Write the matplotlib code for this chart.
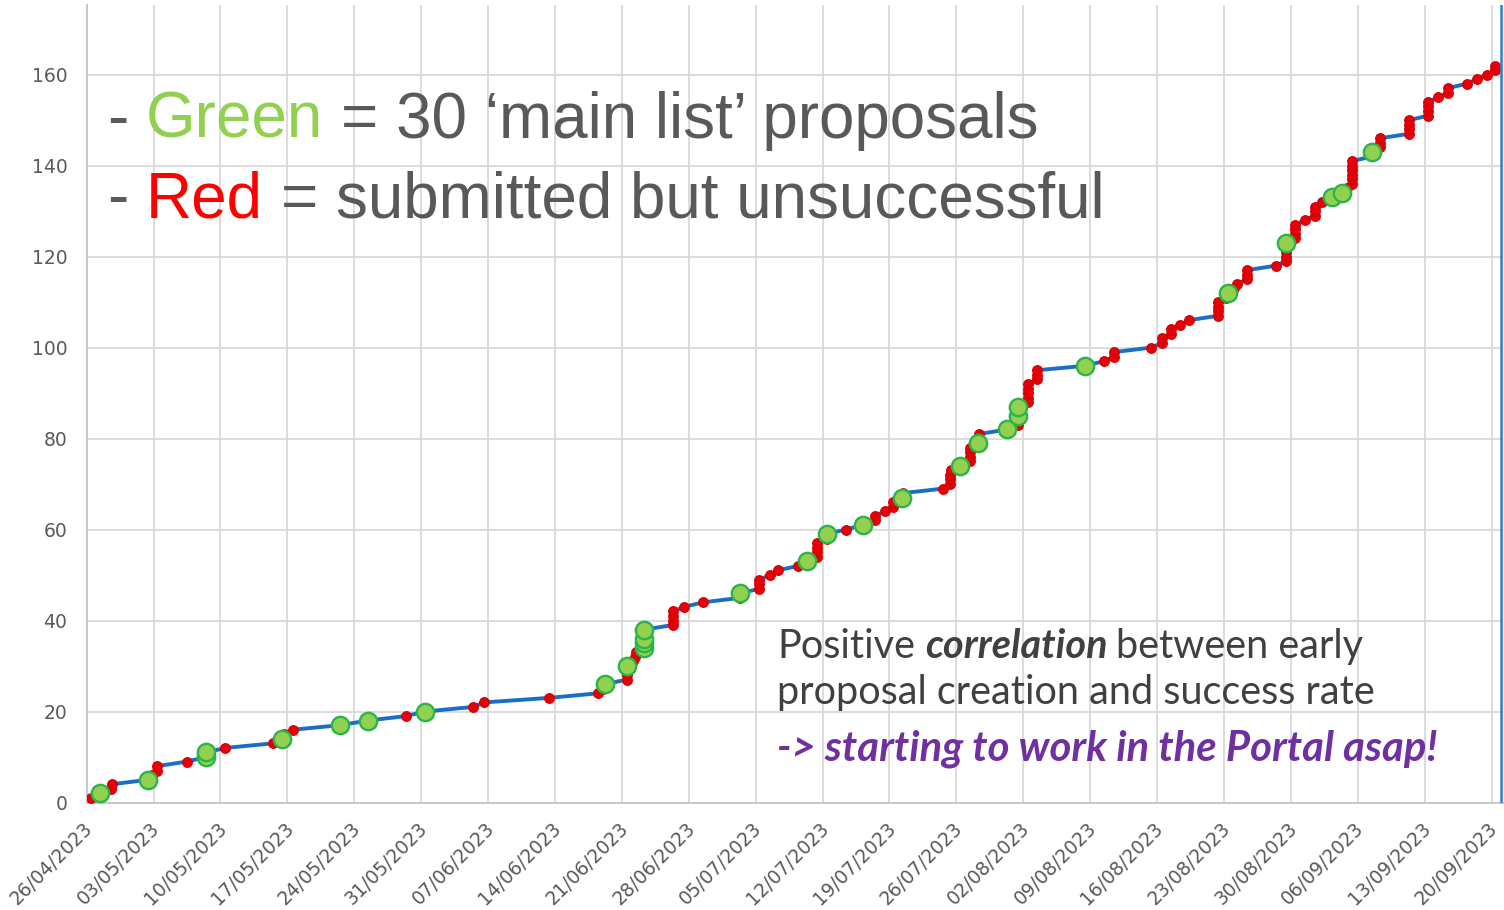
import numpy as np
import matplotlib
matplotlib.use("Agg")
import matplotlib.pyplot as plt
import matplotlib.dates as mdates
from matplotlib.transforms import ScaledTranslation
import datetime as dt

W, H = 1504, 910

# day offset (from 26/04/2023) of each proposal, in creation order
days = [
    0.5, 1.4, 2.5, 2.6, 6.4, 6.8, 7.4, 7.4, 10.5, 12.5,
    12.5, 14.5, 19.5, 20.4, 20.6, 21.6, 26.5, 29.4, 33.4, 35.4,
    40.4, 41.6, 48.4, 53.5, 54.0, 54.2, 56.5, 56.5, 56.5, 56.5,
    57.2, 57.4, 57.5, 58.3, 58.3, 58.3, 58.3, 58.3, 61.3, 61.3,
    61.3, 61.4, 62.5, 64.5, 68.4, 68.4, 70.4, 70.4, 70.4, 71.5,
    72.3, 74.4, 75.4, 76.4, 76.4, 76.4, 76.4, 77.5, 77.5, 79.4,
    81.2, 82.5, 82.5, 83.5, 84.4, 84.4, 85.3, 85.4, 89.6, 90.3,
    90.3, 90.3, 90.4, 91.4, 92.4, 92.4, 92.4, 92.4, 93.3, 93.4,
    93.4, 96.3, 97.4, 97.4, 97.4, 97.4, 97.4, 98.5, 98.5, 98.5,
    98.5, 98.5, 99.4, 99.4, 99.4, 104.5, 106.4, 107.5, 107.5, 111.4,
    112.5, 112.5, 113.5, 113.5, 114.4, 115.3, 118.4, 118.4, 118.4, 118.4,
    119.2, 119.4, 120.0, 120.4, 121.4, 121.4, 121.4, 124.4, 125.5, 125.5,
    125.5, 125.5, 125.5, 126.4, 126.4, 126.4, 126.4, 127.5, 128.5, 128.5,
    128.5, 129.3, 130.3, 131.4, 131.9, 132.4, 132.4, 132.4, 132.4, 132.4,
    132.4, 134.5, 134.5, 135.3, 135.3, 135.3, 138.4, 138.4, 138.4, 138.4,
    140.4, 140.4, 140.4, 140.4, 141.4, 142.4, 142.4, 144.4, 145.5, 146.5,
    147.4, 147.4,
]

# proposal numbers that made the 'main list'
green_ids = [2, 5, 10, 11, 14, 17, 18, 20, 26, 30, 34, 35, 36, 38, 46, 53, 59,
             61, 67, 74, 79, 82, 85, 87, 96, 112, 123, 133, 134, 143]

start = dt.date(2023, 4, 26)
n_weeks = 21
y_ticks = [0, 20, 40, 60, 80, 100, 120, 140, 160]

x0 = mdates.date2num(start)
x = x0 + np.array(days)
counts = np.arange(1, len(days) + 1)
is_green = np.isin(counts, green_ids)

fig = plt.figure(figsize=(W / 100, H / 100), dpi=100)
ax = fig.add_axes([86.7 / W, 107.5 / H, (1503 - 86.7) / W, 797.5 / H])

ax.plot(x, counts, color='#1A6FC4', lw=2.8, zorder=3)
ax.plot(x[~is_green], counts[~is_green], 'o', ms=7, mfc='#E5000A',
        mec='#D40000', mew=0.8, zorder=4)
ax.plot(x[is_green], counts[is_green], 'o', ms=12.5, mfc='#92D050',
        mec='#2CB34A', mew=1.7, zorder=5)
ax.axvline(x0 + 148.0, color='#2E7CD0', lw=1.8, zorder=6)

ax.set_xlim(x0, x0 + 148.2)
ax.set_ylim(0, 175.3)
ax.set_yticks(y_ticks)
ax.set_xticks(x0 + 7 * np.arange(n_weeks + 1))
ax.xaxis.set_major_formatter(mdates.DateFormatter('%d/%m/%Y'))
ax.grid(color='#D9D9D9', lw=1.3)
ax.set_axisbelow(True)
for s in ['top', 'right']:
    ax.spines[s].set_visible(False)
for s in ['left', 'bottom']:
    ax.spines[s].set_color('#C8C8C8')
    ax.spines[s].set_linewidth(1.4)
ax.tick_params(length=0, labelsize=13.5, labelcolor='#595959')
ax.tick_params(axis='y', pad=14)
ax.tick_params(axis='x', pad=12)
for lab in ax.get_xticklabels():
    lab.set_rotation(45)
    lab.set_ha('right')
    lab.set_va('top')
    lab.set_transform(lab.get_transform() + ScaledTranslation(0.10, 0, fig.dpi_scale_trans))

renderer = fig.canvas.get_renderer()


def text_width(s, size, props):
    t = fig.text(0, 0, s, fontsize=size, **props)
    w = t.get_window_extent(renderer).width
    t.remove()
    return w


def line_width(runs, size):
    total = 0
    for i, (s, props) in enumerate(runs):
        total += text_width(s, size, props)
        if i < len(runs) - 1:
            total += text_width('a a', size, props) - text_width('aa', size, props)
    return total


def draw_line(x_px, y_px, runs, size):
    cur = x_px
    for i, (s, props) in enumerate(runs):
        t = fig.text(cur / W, 1 - y_px / H, s, fontsize=size, ha='left',
                     va='baseline', **props)
        cur = t.get_window_extent(renderer).x1
        if i < len(runs) - 1:
            cur += text_width('a a', size, props) - text_width('aa', size, props)


def fit(runs, target, size0=30):
    return size0 * target / line_width(runs, size0)


# big legend-like text
big = dict(family='Liberation Sans', color='#595959')
line1 = [('-', big), ('Green', dict(big, color='#92D050')), ('= 30 \u2018main list\u2019 proposals', big)]
line2 = [('-', big), ('Red', dict(big, color='#FF0000')), ('= submitted but unsuccessful', big)]
s_big = fit(line2, 996)
draw_line(107, 138, line1, s_big)
draw_line(107, 217, line2, s_big)

# comment text
reg = dict(family='Lato', color='#404040')
bi = dict(reg, weight='bold', style='italic')
purple = dict(family='Lato', color='#7030A0', weight='bold', style='italic')
lineA = [('Positive', reg), ('correlation', bi), ('between early', reg)]
lineB = [('proposal creation and success rate', reg)]
lineC = [('-> starting to work in the Portal asap!', purple)]
s_b = (fit(lineA, 593) + fit(lineB, 593)) / 2
draw_line(777, 658, lineA, s_b)
draw_line(777, 704, lineB, s_b)
draw_line(777, 760, lineC, fit(lineC, 660))

fig.savefig('out.png', dpi=100)
